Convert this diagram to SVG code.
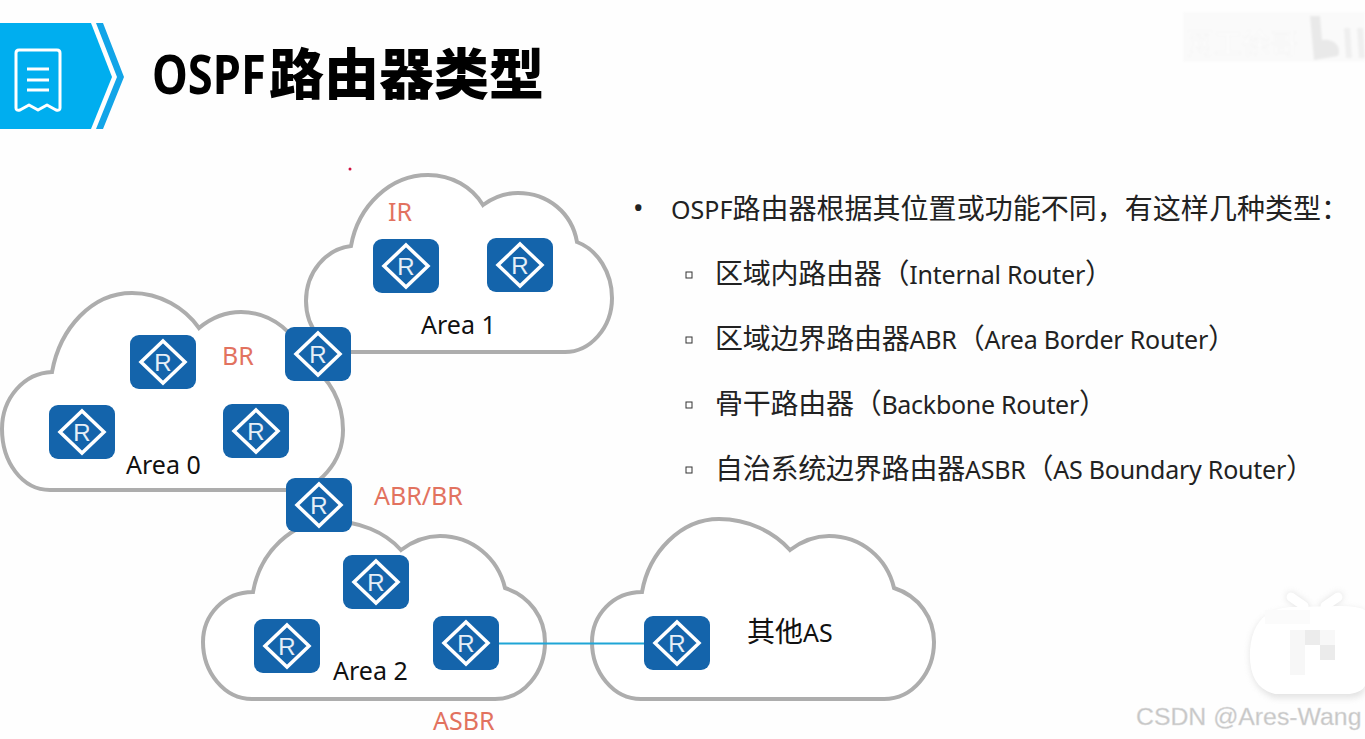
<svg xmlns="http://www.w3.org/2000/svg" width="1365" height="739" viewBox="0 0 1365 739">
<style>
text{font-family:"Noto Sans","Noto Sans CJK SC",sans-serif}
.cloud{fill:#fff;stroke:#adadad;stroke-width:4}
.rb{fill:#1464ab}
.rd{fill:none;stroke:#fff;stroke-width:3.5}
.rt{font-family:"Liberation Sans",Arial,sans-serif;font-size:24px;fill:#e6eff7;text-anchor:middle}
.lab{font-size:25px;fill:#111}
.red{font-size:25px;fill:#e2725f}
.li{font-size:25px;fill:#222}
.c{font-family:"Noto Sans CJK SC",sans-serif;font-size:28px}
.sq{fill:none;stroke:#333;stroke-width:1}
</style>
<defs>
<g id="router">
<rect class="rb" x="0" y="0" width="66" height="54" rx="9"/>
<polygon class="rd" points="33,6 55,27 33,48 11,27"/>
<text class="rt" x="33" y="35.500">R</text>
</g>
<filter id="soft" x="-10%" y="-10%" width="120%" height="120%"><feGaussianBlur stdDeviation="1"/></filter>
<filter id="shade" x="-10%" y="-10%" width="120%" height="120%"><feGaussianBlur stdDeviation="3"/></filter>
</defs>
<rect width="1365" height="739" fill="#fefefe"/>

<g id="banner">
<polygon points="0,23 91,23 112,77 91,129 0,129" fill="#00aeef"/>
<polygon points="96,23 103,23 124,77 103,129 96,129 117,77" fill="#12a5e8"/>
<path d="M16,59 Q16,56 19,56 L57,56 Q60,56 60,59 L60,114 Q60,117 56,116 L47,111 L38,116 L29,111 L20,116 Q16,117 16,114 Z" fill="none" stroke="#fff" stroke-width="3" stroke-linejoin="round" transform="translate(0,-6)"/>
<path d="M27,69 H49 M27,80 H49 M27,90 H49" stroke="#fff" stroke-width="3" fill="none"/>
</g>
<g id="title">
<text transform="translate(152,94) scale(.84,1)" x="0" y="0" style="font-family:'Noto Sans',sans-serif;font-size:54px;font-weight:700;fill:#000">OSPF</text>
<text x="269" y="94" style="font-family:'Noto Sans CJK SC',sans-serif;font-size:55px;font-weight:900;fill:#000">路由器类型</text>
</g>
<circle cx="350" cy="169" r="1.5" fill="#d01040"/>

<g id="cloud-area1">
<path class="cloud" d="M351,352 C325,352 306,328 306,301 C306,272 326,249 351,246 C358,206 390,175 428,175 C452,175 472,187 483,205 C494,197 505,193 518,193 C548,193 572,213 577,242 C598,250 612,273 612,298 C612,328 590,352 565,352 Z"/>
<text class="red" x="388" y="221">IR</text>
<text class="lab" x="421" y="334">Area 1</text>
</g>
<g id="cloud-area0">
<path class="cloud" d="M50,490 C22,490 2,462 2,429 C2,398 24,373 52,372 C60,328 92,293 132,293 C160,293 185,308 199,328 C211,318 226,312 241,312 C272,312 298,334 308,364 C330,378 343,402 343,430 C343,462 318,490 292,490 Z"/>
<text class="red" x="222" y="365">BR</text>
<text class="lab" x="126" y="474">Area 0</text>
</g>
<g id="cloud-area2">
<path class="cloud" d="M252,699 C224,699 203,672 203,642 C203,615 224,592 253,592 C260,552 292,521 330,521 C359,521 385,532 401,550 C413,541 426,536 440,536 C472,536 498,558 505,588 C530,596 545,618 545,642 C545,672 524,699 495,699 Z"/>
<text class="lab" x="333" y="680">Area 2</text>
</g>
<g id="cloud-other">
<path class="cloud" d="M641,699 C613,699 592,672 592,642 C592,615 613,592 642,592 C649,552 681,519 719,519 C748,519 774,532 790,550 C802,541 815,536 829,536 C861,536 887,558 894,588 C919,596 934,618 934,642 C934,672 913,699 884,699 Z"/>
<text class="lab" x="747" y="642"><tspan class="c">其他</tspan>AS</text>
</g>

<g id="connectors">
<path d="M499,643.500 H644" stroke="#1fa5d6" stroke-width="2" fill="none"/>
</g>

<g id="r-a1-1"><use href="#router" x="373" y="239"/></g>
<g id="r-a1-2"><use href="#router" x="487" y="238"/></g>
<g id="r-br"><use href="#router" x="285" y="327"/></g>
<g id="r-a0-1"><use href="#router" x="130" y="335"/></g>
<g id="r-a0-2"><use href="#router" x="49" y="405"/></g>
<g id="r-a0-3"><use href="#router" x="223" y="404"/></g>
<g id="r-abr"><use href="#router" x="286" y="478"/></g>
<g id="r-a2-1"><use href="#router" x="343" y="555"/></g>
<g id="r-a2-2"><use href="#router" x="254" y="619"/></g>
<g id="r-asbr"><use href="#router" x="433" y="616"/></g>
<g id="r-as"><use href="#router" x="644" y="616"/></g>

<text class="red" x="374" y="505">ABR/BR</text>
<text class="red" x="433" y="730">ASBR</text>

<g id="bullets">
<text class="li" x="633" y="218" style="font-size:28px">•</text>
<text class="li" x="671" y="219" textLength="678" lengthAdjust="spacing">OSPF<tspan class="c">路由器根据其位置或功能不同，有这样几种类型：</tspan></text>
<rect class="sq" x="686" y="272" width="6" height="6"/>
<text class="li" x="715" y="284" textLength="398" lengthAdjust="spacing"><tspan class="c">区域内路由器（</tspan>Internal Router<tspan class="c">）</tspan></text>
<rect class="sq" x="686" y="337" width="6" height="6"/>
<text class="li" x="715" y="349" textLength="521" lengthAdjust="spacing"><tspan class="c">区域边界路由器</tspan>ABR<tspan class="c">（</tspan>Area Border Router<tspan class="c">）</tspan></text>
<rect class="sq" x="686" y="402" width="6" height="6"/>
<text class="li" x="715" y="414" textLength="392" lengthAdjust="spacing"><tspan class="c">骨干路由器（</tspan>Backbone Router<tspan class="c">）</tspan></text>
<rect class="sq" x="686" y="467" width="6" height="6"/>
<text class="li" x="715" y="479" textLength="599" lengthAdjust="spacing"><tspan class="c">自治系统边界路由器</tspan>ASBR<tspan class="c">（</tspan>AS Boundary Router<tspan class="c">）</tspan></text>
</g>

<g id="watermark-top" filter="url(#soft)">
<rect x="1183" y="12" width="182" height="50" fill="#fafafa"/>
<text x="1186" y="54" style="font-family:'Noto Sans CJK SC',sans-serif;font-size:28px;fill:#fff;stroke:#f0f0f0;stroke-width:.5">网工徐哥</text>
<path d="M1310,16 L1320,16 L1322,40 C1335,38 1342,48 1338,56 L1314,60 Z" fill="#e9e9e9"/>
<path d="M1344,28 L1350,28 L1352,58 L1346,58 Z M1357,28 L1363,28 L1365,58 L1359,58 Z" fill="#efefef"/>
</g>

<g id="watermark-tv">
<g opacity=".4" filter="url(#shade)">
<path d="M1290,610 Q1253,612 1250,650 Q1248,690 1275,698 H1350 Q1362,698 1365,690 V612 Q1360,608 1340,608 Z" fill="#bbb"/>
<path d="M1291,597 L1304,606 M1338,597 L1325,606" stroke="#bbb" stroke-width="10" stroke-linecap="round"/>
</g>
<path d="M1290,607 Q1253,610 1250,650 Q1248,688 1275,694 H1350 Q1362,692 1365,686 V610 Q1358,606 1340,606 Z" fill="#fff"/>
<path d="M1291,597 L1304,606 M1338,597 L1325,606" stroke="#fff" stroke-width="9" stroke-linecap="round"/>
<rect x="1290" y="630" width="15" height="45" fill="#f7f7f7"/>
<rect x="1305" y="630" width="15" height="15" fill="#ececec"/>
<rect x="1320" y="630" width="15" height="15" fill="#f8f8f8"/>
<rect x="1320" y="645" width="15" height="15" fill="#ebebeb"/>
<rect x="1265" y="610" width="45" height="14" fill="#fbfbfb"/>
</g>
<text id="csdn" x="1136" y="725" style="font-family:'Liberation Sans',Arial,sans-serif;font-size:24.8px;fill:#c6c6c6;stroke:#e0e0e0;stroke-width:.4">CSDN @Ares-Wang</text>
</svg>
